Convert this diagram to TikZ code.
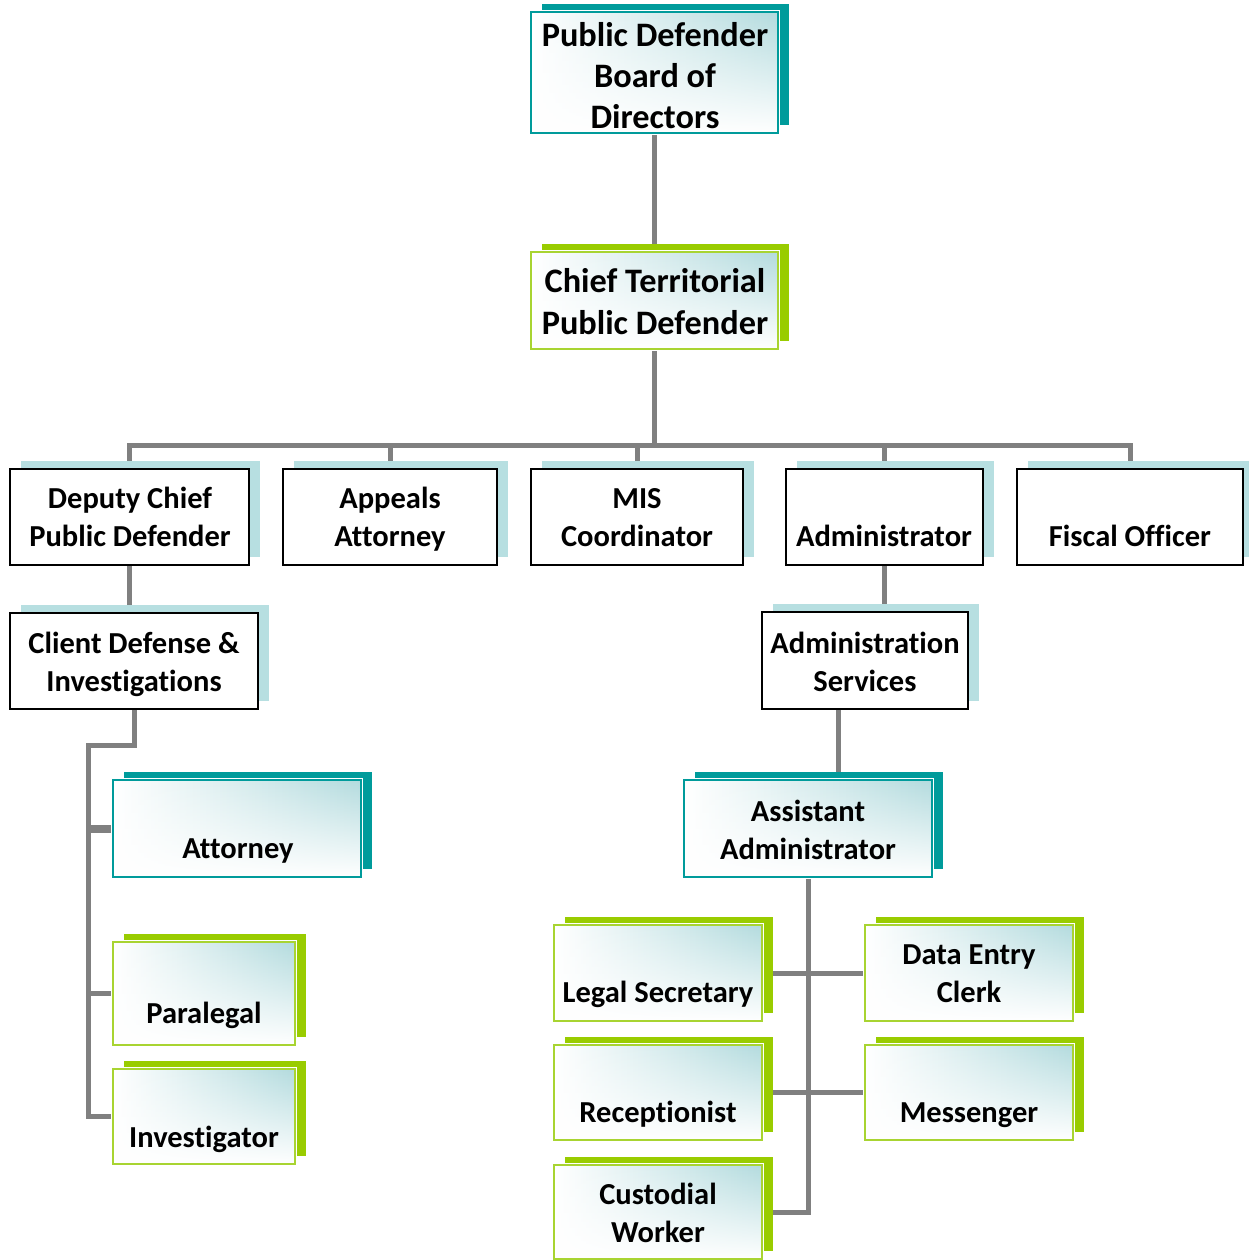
\documentclass[tikz,border=0pt]{standalone}
\usepackage{fontspec}
\setmainfont{Carlito}[RawFeature={-liga;-clig;-dlig;-calt}]
\usetikzlibrary{shadows,backgrounds,fadings}
\definecolor{tealc}{HTML}{009B9B}
\definecolor{greenc}{HTML}{99CC00}
\definecolor{greenb}{HTML}{A8D431}
\definecolor{lblue}{HTML}{B7DFE1}
\definecolor{gradc}{HTML}{B3DBDE}
\definecolor{linec}{HTML}{808080}
\tikzset{
  x=1pt, y=-1pt,
  every node/.style={inner sep=0pt, outer sep=0pt},
  gradbox/.style={rectangle,
    copy shadow={shadow xshift=10.5pt, shadow yshift=8pt, fill=#1, draw=none},
    preaction={draw=white, line width=4pt},
    preaction={fill=white},
    preaction={left color=white, right color=gradc, path fading=south}},
  tealbox/.style={gradbox=tealc, draw=tealc, line width=1.5pt},
  greenbox/.style={gradbox=greenc, draw=greenb, line width=1.5pt},
  plainbox/.style={rectangle,
    copy shadow={shadow xshift=10.5pt, shadow yshift=8pt, fill=lblue, draw=none},
    fill=white, draw=black, line width=2pt},
  conn/.style={draw=linec, line width=5pt},
  lbl/.style={anchor=base, font=\bfseries\fontsize{30.5}{36}\selectfont},
  biglbl/.style={anchor=base, font=\bfseries\fontsize{34.3}{41}\selectfont},
}
\newcommand\orgbox[6]{%
  \node[#1, minimum width={#5-#3}, minimum height={#6-#4}] (#2) at ({(#3+#5)/2},{(#4+#6)/2}) {};}
\begin{document}
\begin{tikzpicture}
\useasboundingbox (0,0) rectangle (1249,1260);
% boxes
\orgbox{tealbox}{board}{531}{12}{778}{133}
\orgbox{greenbox}{chief}{531}{252}{778}{349}
\orgbox{plainbox}{deputy}{10}{469}{249}{565}
\orgbox{plainbox}{appeals}{283}{469}{497}{565}
\orgbox{plainbox}{mis}{531}{469}{743}{565}
\orgbox{plainbox}{admin}{786}{469}{983}{565}
\orgbox{plainbox}{fiscal}{1017}{469}{1243}{565}
\orgbox{plainbox}{client}{10}{613}{258}{709}
\orgbox{plainbox}{adminsrv}{762}{612}{968}{709}
\orgbox{tealbox}{attorney}{113}{780}{361}{877}
\orgbox{tealbox}{asst}{684}{780}{932}{877}
\orgbox{greenbox}{paralegal}{113}{942}{295}{1045}
\orgbox{greenbox}{invest}{113}{1069}{295}{1164}
\orgbox{greenbox}{legal}{554}{925}{762}{1021}
\orgbox{greenbox}{dataentry}{865}{925}{1073}{1021}
\orgbox{greenbox}{recep}{554}{1045}{762}{1140}
\orgbox{greenbox}{messenger}{865}{1045}{1073}{1140}
\orgbox{greenbox}{custodial}{554}{1165}{762}{1259}
% texts
\node[biglbl] (tb1) at (655,47) {Public Defender};
\node[biglbl] (tb2) at (655,88) {Board of};
\node[biglbl] (tb3) at (655,129) {Directors};
\node[biglbl] (tc1) at (655,292) {Chief Territorial};
\node[biglbl] (tc2) at (655,334) {Public Defender};
\node[lbl] (td1) at (130,508) {Deputy Chief};
\node[lbl] (td2) at (130,546) {Public Defender};
\node[lbl] (ta1) at (390,508) {Appeals};
\node[lbl] (ta2) at (390,546) {Attorney};
\node[lbl] (tm1) at (637,508) {MIS};
\node[lbl] (tm2) at (637,546) {Coordinator};
\node[lbl] (tad) at (884,546) {Administrator};
\node[lbl] (tf) at (1130,546) {Fiscal Officer};
\node[lbl] (tcl1) at (134,653) {Client Defense \&};
\node[lbl] (tcl2) at (134,691) {Investigations};
\node[lbl] (ts1) at (865,653) {Administration};
\node[lbl] (ts2) at (865,691) {Services};
\node[lbl] (tat) at (238,858) {Attorney};
\node[lbl] (tas1) at (808,821) {Assistant};
\node[lbl] (tas2) at (808,859) {Administrator};
\node[lbl] (tp) at (204,1023) {Paralegal};
\node[lbl] (ti) at (204,1147) {Investigator};
\node[lbl] (tl) at (658,1002) {Legal Secretary};
\node[lbl] (tde1) at (969,964) {Data Entry};
\node[lbl] (tde2) at (969,1002) {Clerk};
\node[lbl] (tr) at (658,1122) {Receptionist};
\node[lbl] (tme) at (969,1122) {Messenger};
\node[lbl] (tcu1) at (658,1204) {Custodial};
\node[lbl] (tcu2) at (658,1242) {Worker};
% connectors
\begin{scope}[on background layer]
\fill[white] (0,0) rectangle (1249,1260);
\coordinate (bus) at (0,445);
\coordinate (spl) at (88,745);
\coordinate (j1) at (838,0);
\draw[conn] (board.south) -- (chief.north);
\draw[conn] (chief.south) -- (chief.south |- bus);
\draw[conn] (deputy.north) |- (fiscal.north |- bus) -- (fiscal.north);
\draw[conn] (appeals.north) -- (appeals.north |- bus);
\draw[conn] (mis.north) -- (mis.north |- bus);
\draw[conn] (admin.north) -- (admin.north |- bus);
\draw[conn] (deputy.south) -- (deputy.south |- client.north);
\draw[conn] (admin.south) -- (admin.south |- adminsrv.north);
\draw[conn] (client.south) |- (spl) -- (spl |- invest.west) -- (invest.west);
\draw[conn, line width=8pt] (spl |- attorney.west) -- (attorney.west);
\draw[conn] (spl |- paralegal.west) -- (paralegal.west);
\draw[conn] (j1 |- adminsrv.south) -- (j1 |- asst.north);
\draw[conn] (asst.south) |- (custodial.east);
\draw[conn] (legal.east) -- (dataentry.west);
\draw[conn] (recep.east) -- (messenger.west);
\end{scope}
\end{tikzpicture}
\end{document}
